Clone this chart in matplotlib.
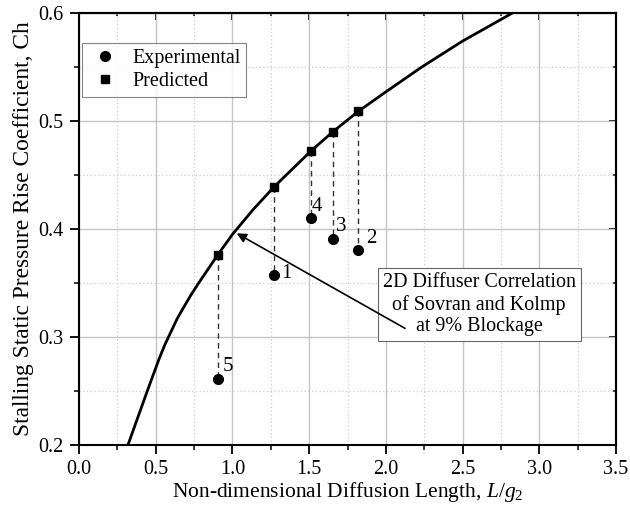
import matplotlib
matplotlib.use("Agg")
import matplotlib.pyplot as plt
from matplotlib.ticker import MultipleLocator, FormatStrFormatter

plt.rcParams['font.family'] = ['Liberation Serif', 'DejaVu Serif']
plt.rcParams['mathtext.fontset'] = 'custom'
plt.rcParams['mathtext.rm'] = 'Liberation Serif'
plt.rcParams['mathtext.it'] = 'Liberation Serif:italic'

# Sovran & Klomp 2D diffuser correlation (9% blockage)
corr_x = [0.319, 0.445, 0.520, 0.560, 0.600, 0.640, 0.680, 0.730, 0.780, 0.904,
          1.000, 1.135, 1.271, 1.510, 1.654, 1.821, 2.000, 2.234, 2.500, 2.825]
corr_y = [0.200, 0.250, 0.279, 0.293, 0.305, 0.317, 0.327, 0.339, 0.350, 0.376,
          0.395, 0.418, 0.439, 0.472, 0.490, 0.509, 0.527, 0.550, 0.574, 0.600]

# Cases 1-5
case_ids = ["1", "2", "3", "4", "5"]
case_x = [1.271, 1.821, 1.654, 1.510, 0.904]
predicted_ch = [0.439, 0.509, 0.490, 0.472, 0.376]
experimental_ch = [0.357, 0.381, 0.391, 0.410, 0.261]
label_offsets = [(9.0, 1.4), (9.0, 8.0), (6.0, 9.0), (4.3, 8.6), (7.5, 9.4)]

fig = plt.figure(figsize=(6.3, 5.08), dpi=100)
ax = fig.add_axes([0.1254, 0.124, 0.8524, 0.8504])

ax.set_xlim(0, 3.5)
ax.set_ylim(0.2, 0.6)
ax.xaxis.set_major_locator(MultipleLocator(0.5))
ax.xaxis.set_minor_locator(MultipleLocator(0.25))
ax.yaxis.set_major_locator(MultipleLocator(0.1))
ax.yaxis.set_minor_locator(MultipleLocator(0.05))
ax.xaxis.set_major_formatter(FormatStrFormatter('%.1f'))
ax.yaxis.set_major_formatter(FormatStrFormatter('%.1f'))

ax.grid(which='major', color='#c4c4c4', lw=1.0, ls='-', zorder=0)
ax.grid(which='minor', color='#cccccc', lw=0.9, ls=(0, (1, 2)), zorder=0)
ax.set_axisbelow(True)

for s in ax.spines.values():
    s.set_linewidth(1.5)

ax.tick_params(which='major', direction='out', length=6.5, width=1.3, labelsize=14.5, pad=4)
ax.tick_params(axis='y', which='major', pad=5)
ax.tick_params(which='minor', direction='out', length=3.5, width=1.1)

# mirrored ticks on top and right, pointing inward
top = ax.secondary_xaxis('top')
top.xaxis.set_major_locator(MultipleLocator(0.5))
top.xaxis.set_minor_locator(MultipleLocator(0.25))
top.tick_params(which='major', direction='in', length=5, width=1.3, labeltop=False)
top.tick_params(which='minor', direction='in', length=2.5, width=1.1)
top.spines['top'].set_linewidth(1.5)
right = ax.secondary_yaxis('right')
right.yaxis.set_major_locator(MultipleLocator(0.1))
right.yaxis.set_minor_locator(MultipleLocator(0.05))
right.tick_params(which='major', direction='in', length=5, width=1.3, labelright=False)
right.tick_params(which='minor', direction='in', length=2.5, width=1.1)
right.spines['right'].set_linewidth(1.5)

# correlation curve
ax.plot(corr_x, corr_y, color='black', lw=2.0, zorder=3,
        solid_capstyle='butt', solid_joinstyle='round')

# dashed drops from predicted to experimental
for x, p, e in zip(case_x, predicted_ch, experimental_ch):
    ax.plot([x, x], [p, e], color='#333333', lw=1.0, ls=(0, (4, 3)), zorder=2)

ax.plot(case_x, experimental_ch, 'o', color='black', ms=7, ls='none',
        label='Experimental', zorder=4)
ax.plot(case_x, predicted_ch, 's', color='black', ms=5.6, ls='none',
        label='Predicted', zorder=4)

for cid, x, e, off in zip(case_ids, case_x, experimental_ch, label_offsets):
    ax.annotate(cid, xy=(x, e), xytext=off, textcoords='offset points',
                ha='center', va='center', fontsize=15)

leg = ax.legend(loc='upper left', bbox_to_anchor=(0.005, 0.931), borderaxespad=0,
                fontsize=14.5, frameon=True, fancybox=False, handletextpad=0.5,
                borderpad=0.3, labelspacing=0.2, handlelength=1.7)
leg.get_frame().set_edgecolor('#666666')
leg.get_frame().set_linewidth(0.8)

ax.text(2.608, 0.330, "2D Diffuser Correlation\nof Sovran and Kolmp\nat 9% Blockage",
        ha='center', va='center', multialignment='center', fontsize=14.5,
        linespacing=1.2, zorder=5,
        bbox=dict(boxstyle='square,pad=0.25', fc='white', ec='#666666', lw=0.8))
ax.annotate('', xy=(1.028, 0.396), xytext=(2.125, 0.308),
            arrowprops=dict(arrowstyle='-|>', color='black', lw=1.2,
                            mutation_scale=14, shrinkA=0, shrinkB=0),
            zorder=6)

ax.set_xlabel(r"Non-dimensional Diffusion Length, $L/g_2$", fontsize=15.5, labelpad=1)
ax.set_ylabel("Stalling Static Pressure Rise Coefficient, Ch", fontsize=16.8, labelpad=3)

fig.savefig("out.png", dpi=100)
